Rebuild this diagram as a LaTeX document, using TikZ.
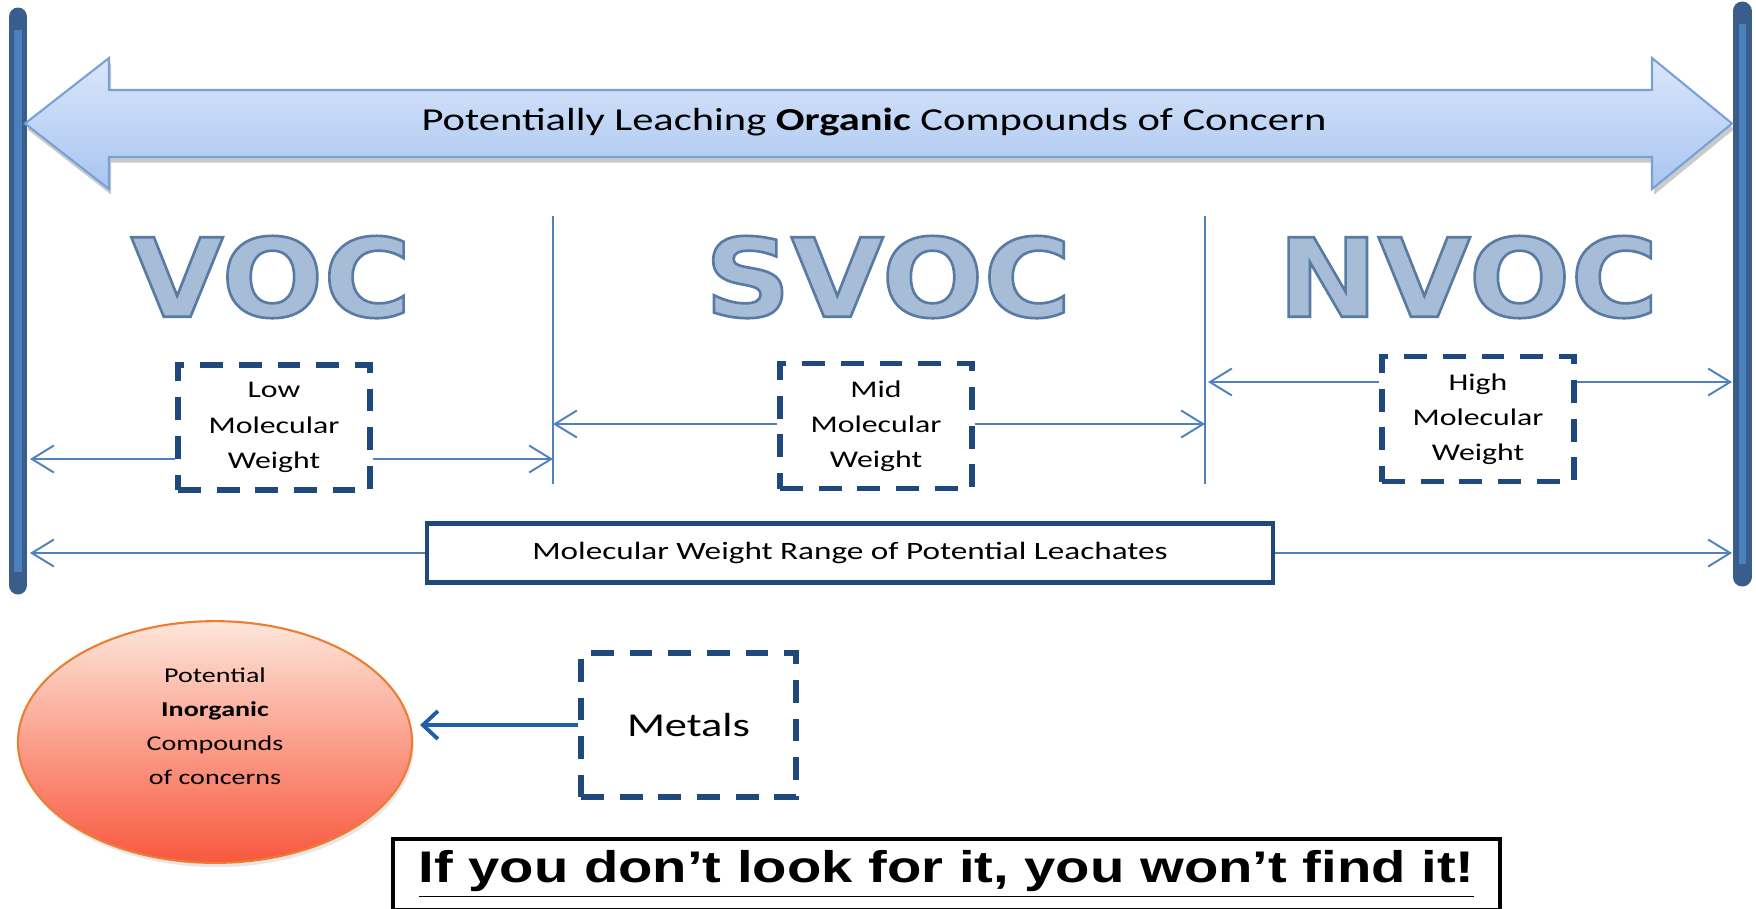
\documentclass[tikz,border=0pt]{standalone}
\usepackage{fontspec}
\setmainfont[FakeStretch=1.33]{Carlito}
\newfontfamily\classfont[FakeStretch=1.1]{DejaVu Sans}
\newfontfamily\mottofont[FakeStretch=1.27]{Liberation Sans}
\usetikzlibrary{arrows.meta,positioning,shapes.geometric,shadows,calc}
\tikzset{
  rangearrow/.style={-{Straight Barb[length=2.2mm,width=2.7mm]}, line width=0.55pt,
    draw=LeachBlue},
  bandshadow/.style={drop shadow={shadow xshift=0.6pt, shadow yshift=-1.6pt,
    opacity=.35, fill=black!60}},
  weightlabel/.style={font=\fontsize{6.8}{10}\selectfont, align=center}
}
\definecolor{LeachNavy}{HTML}{1F497D}
\definecolor{LeachBlue}{HTML}{4F81BD}
\definecolor{BarDark}{HTML}{3A5E8C}
\definecolor{BarLight}{HTML}{4C7FBE}
\definecolor{BandTop}{HTML}{DAE6FA}
\definecolor{BandBottom}{HTML}{A8C5F1}
\definecolor{BandEdge}{HTML}{7AA1D6}
\definecolor{ClassSteel}{HTML}{A6BCD7}
\definecolor{OrbTop}{HTML}{FDE6DA}
\definecolor{OrbMid}{HTML}{FBC0A5}
\definecolor{OrbBottom}{HTML}{F8583E}
\definecolor{OrbEdge}{HTML}{ED7D31}
\definecolor{MetalBlue}{HTML}{1F5FA8}
% outlined letters for the class names
\newcommand{\bevelword}[1]{\special{pdf:literal direct 2 Tr 0.75 w 0.35 0.48 0.64 RG}#1\special{pdf:literal direct 0 Tr}}

\begin{document}
\begin{tikzpicture}[
  endbar/.style={line width=5.4pt, draw=BarDark, line cap=round},
  endstripe/.style={line width=2pt, draw=BarLight},
  sepline/.style={line width=0.55pt, draw=LeachBlue},
  classlabel/.style={font=\classfont\bfseries\fontsize{31}{31}\selectfont, text=ClassSteel, inner sep=0pt},
  weightbox/.style={weightlabel, draw=LeachNavy, line width=1.5pt, dash pattern=on 6.5pt off 4.5pt,
    minimum width=1.92cm, minimum height=1.25cm, inner sep=2pt},
  rangebox/.style={draw=LeachNavy, line width=1.2pt, fill=white, minimum width=8.46cm,
    minimum height=0.59cm, font=\fontsize{7.1}{9}\selectfont},
  orb/.style={ellipse, draw=OrbEdge, line width=0.6pt, top color=OrbTop, middle color=OrbMid,
    bottom color=OrbBottom, minimum width=3.94cm, minimum height=2.40cm, align=center,
    font=\fontsize{6}{9.6}\selectfont, text depth=9pt,
    drop shadow={shadow xshift=0.5pt, shadow yshift=-1.2pt, opacity=.2}},
  mottobox/.style={draw=black, line width=1.1pt, minimum width=11.07cm, minimum height=0.65cm,
    font=\mottofont\bfseries\fontsize{12.6}{15}\selectfont}
]
\useasboundingbox (0,0) rectangle (17.56,-9.08);

% End bars on both sides
\draw[endbar] (0.18,-0.17) -- (0.18,-5.85);
\draw[endstripe] (0.18,-0.30) -- (0.18,-5.72);
\draw[endbar] (17.42,-0.11) -- (17.42,-5.77);
\draw[endstripe] (17.42,-0.24) -- (17.42,-5.64);

% Organic band: double arrow spanning the whole range
\draw[bandshadow, draw=BandEdge, line width=0.6pt, top color=BandTop, bottom color=BandBottom]
  (0.25,-1.235) -- (1.09,-0.58) -- (1.09,-0.90) -- (16.52,-0.90) -- (16.52,-0.58)
  -- (17.32,-1.235) -- (16.52,-1.89) -- (16.52,-1.57) -- (1.09,-1.57) -- (1.09,-1.89) -- cycle;
\node[font=\fontsize{9.1}{11}\selectfont] at (8.74,-1.22) (organic)
  {Potentially Leaching \textbf{Organic} Compounds of Concern};

% Class separators
\draw[sepline] (5.53,-2.16) -- (5.53,-4.84);
\draw[sepline] (12.05,-2.16) -- (12.05,-4.84);

% Weight boxes with their ranges
\node[weightbox] at (2.74,-4.275) (low) {Low\\Molecular\\Weight};
\node[weightbox] at (8.76,-4.26) (mid) {Mid\\Molecular\\Weight};
\node[weightbox] at (14.78,-4.19) (high) {High\\Molecular\\Weight};

\coordinate (lowL) at (0.30,-4.59);
\coordinate (lowR) at (5.53,-4.59);
\coordinate (midL) at (5.53,-4.24);
\coordinate (midR) at (12.05,-4.24);
\coordinate (highL) at (12.08,-3.82);
\coordinate (highR) at (17.32,-3.82);
\draw[rangearrow] (low.west |- lowL) -- (lowL);
\draw[rangearrow] (low.east |- lowR) -- (lowR);
\draw[rangearrow] (mid.west |- midL) -- (midL);
\draw[rangearrow] (mid.east |- midR) -- (midR);
\draw[rangearrow] (high.west |- highL) -- (highL);
\draw[rangearrow] (high.east |- highR) -- (highR);

% Overall range
\node[rangebox] at (8.50,-5.53) (range) {Molecular Weight Range of Potential Leachates};
\coordinate (rangeL) at (0.30,-5.53);
\coordinate (rangeR) at (17.32,-5.53);
\draw[rangearrow] (range.west) -- (rangeL);
\draw[rangearrow] (range.east) -- (rangeR);

% Inorganic part
\node[orb] at (2.15,-7.42) (inorganic) {Potential\\\textbf{Inorganic}\\Compounds\\of concerns};
\node[weightbox, minimum width=2.15cm, minimum height=1.44cm, font=\fontsize{9.5}{12}\selectfont]
  at (6.885,-7.25) (metals) {Metals};
\draw[-{Straight Barb[length=1.5mm,width=2.8mm]}, line width=1.1pt, draw=MetalBlue, shorten >=0.07cm,
  drop shadow={shadow xshift=0.5pt, shadow yshift=-1pt, opacity=.25}]
  (metals.west) -- (metals.west -| inorganic.east);

% Motto
\node[mottobox] at (9.465,-8.745) (motto) {\underline{If you don’t look for it, you won’t find it!}};

% Class names (drawn last)
\node[classlabel] at (2.71,-2.77) (voc) {\bevelword{VOC}};
\node[classlabel] at (8.88,-2.77) (svoc) {\bevelword{SVOC}};
\node[classlabel] at (14.68,-2.77) (nvoc) {\bevelword{NVOC}};
\end{tikzpicture}
\end{document}
